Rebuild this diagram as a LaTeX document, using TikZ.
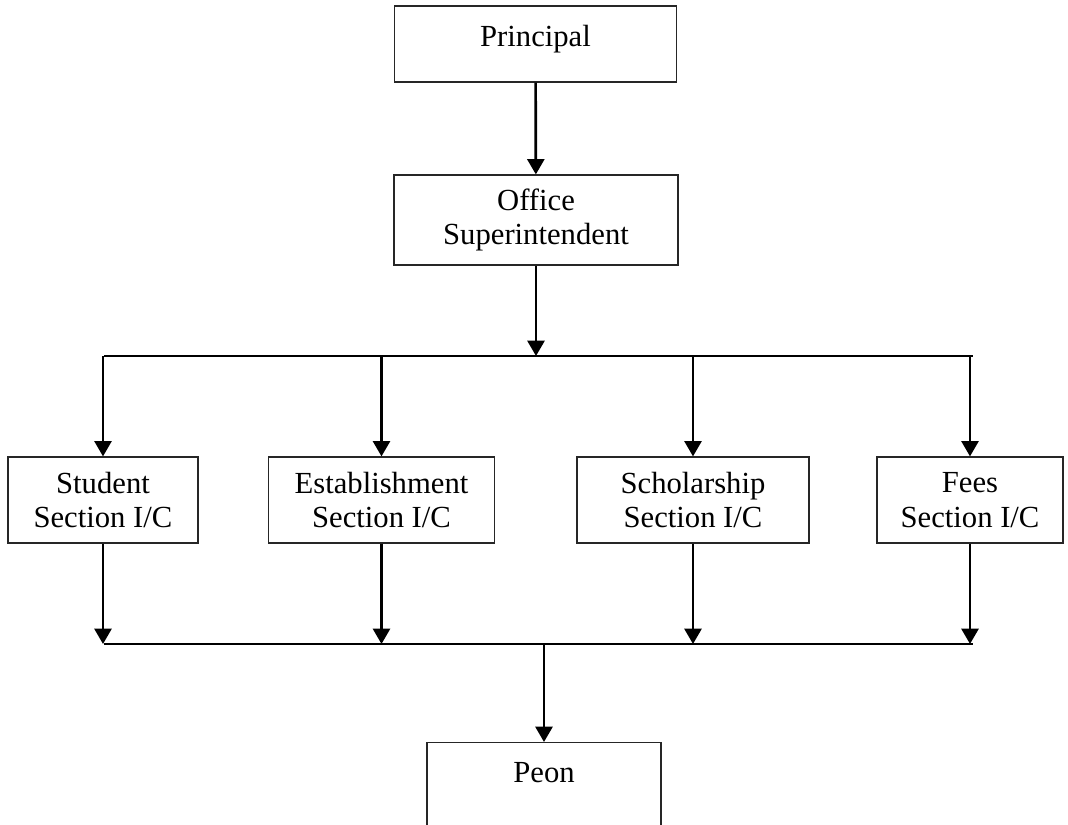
\documentclass[tikz,border=0pt]{standalone}
\usepackage{fontspec}
\setmainfont{Liberation Serif}
\usetikzlibrary{arrows.meta,positioning}

\tikzset{
  box/.style={draw=black!85, line width=0.9pt, inner sep=0pt, align=center,
              font=\fontsize{23}{26}\selectfont},
  flow/.style={line width=2pt, -{Triangle[width=12.75pt,length=11.5pt]}},
  bus/.style={line width=0.8pt}
}

\begin{document}
\begin{tikzpicture}[x=0.75pt, y=-0.75pt]
    % Cornice (dimensioni del riferimento)
    \useasboundingbox (0,0) rectangle (1068,825);
    \clip (0,0) rectangle (1068,825);

    % --- Vertice e ufficio ---
    \node[box, minimum width=212pt, minimum height=57pt, text depth=12pt] (principal) at (535.5,44) {Principal};
    \node[box, minimum width=213pt, minimum height=67.5pt] (office) at (536,220) {Office\\Superintendent};

    % --- Sezioni ---
    \node[box, minimum width=142.5pt, minimum height=64.5pt] (student) at (103,500) {Student\\Section I/C};
    \node[box, minimum width=170pt, minimum height=64.5pt] (establishment) at (381.5,500) {Establishment\\Section I/C};
    \node[box, minimum width=174pt, minimum height=64.5pt] (scholarship) at (693,500) {Scholarship\\Section I/C};
    \node[box, minimum width=139.5pt, minimum height=64.5pt] (fees) at (970,500) {Fees\\Section I/C};

    % --- Peon (tagliato in basso) ---
    \node[box, minimum width=175.5pt, minimum height=90pt, anchor=north] (peon) at (544,742) {};
    \node[font=\fontsize{23}{26}\selectfont, inner sep=0pt] (peontext) at (544,773) {Peon};

    % Coordinate delle linee orizzontali
    \coordinate (topbusL) at (104,356);
    \coordinate (topbusR) at (973,356);
    \coordinate (lowbusL) at (104,644);
    \coordinate (lowbusR) at (973,644);

    % --- Frecce principali ---
    \draw[flow] (principal) -- (office);
    \draw[flow] (office.south) -- (office.south |- topbusL);
    \draw[bus] (topbusL) -- (topbusR);

    % --- Diramazioni verso le sezioni ---
    \foreach \sec in {student, establishment, scholarship, fees}
        \draw[flow] (\sec.north |- topbusL) -- (\sec.north);

    % --- Dalle sezioni al Peon ---
    \foreach \sec in {student, establishment, scholarship, fees}
        \draw[flow] (\sec.south) -- (\sec.south |- lowbusL);
    \draw[bus] (lowbusL) -- (lowbusR);
    \draw[flow] (peon.north |- lowbusL) -- (peon.north);

\end{tikzpicture}
\end{document}
